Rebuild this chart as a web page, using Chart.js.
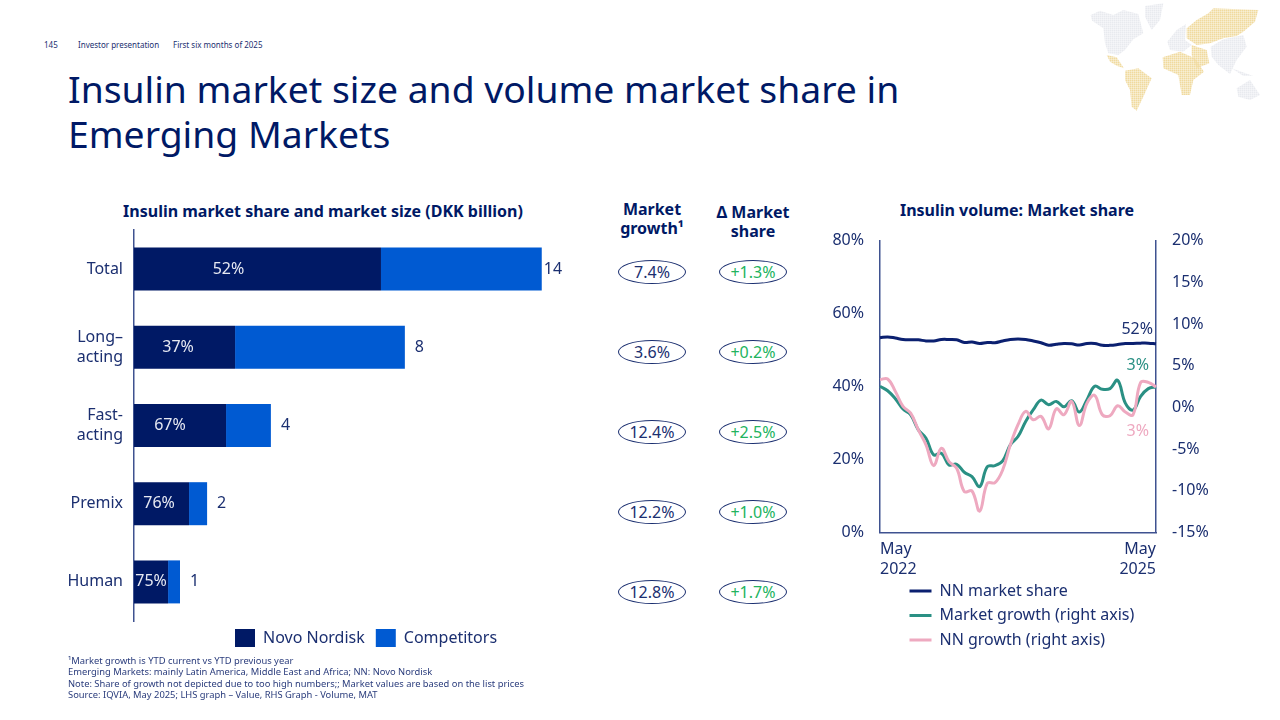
<!DOCTYPE html>
<html>
<head>
<meta charset="utf-8">
<script src="https://cdn.jsdelivr.net/npm/chart.js@4"></script>
<style>
  html, body { margin: 0; padding: 0; background: #fff; }
  body { width: 1280px; height: 720px; position: relative; overflow: hidden; font-family: "Noto Sans", sans-serif; color: #001965; }
  .abs { position: absolute; white-space: nowrap; }
  .head { font-size: 8px; top: 39px; color: #1b2f70; }
  h1 { position: absolute; left: 68px; top: 66px; margin: 0; font-size: 37.3px; line-height: 45px; font-weight: 400; color: #001965; white-space: nowrap; }
  .sub { font-size: 16px; font-weight: 700; line-height: 19px; text-align: center; transform: translateX(-50%); }
  .pill { position: absolute; width: 66px; height: 22px; border: 1px solid #1b2f70; border-radius: 50%; font-size: 16px; line-height: 22px; text-align: center; color: #1b2f70; }
  .pill.up { color: #22b35e; }
  #notes { left: 68px; top: 655px; font-size: 9.37px; line-height: 11.3px; color: #2a3c7c; }
  #leftBox { position: absolute; left: 40px; top: 209px; width: 560px; height: 451px; }
  #rightBox { position: absolute; left: 820px; top: 215px; width: 400px; height: 448px; }
  #map { position: absolute; left: 1080px; top: 0; width: 200px; height: 120px; filter: blur(0.5px); opacity: 0.9; }
</style>
</head>
<body>
<div class="abs head" style="left:44px">145</div>
<div class="abs head" style="left:78px">Investor presentation</div>
<div class="abs head" style="left:173px">First six months of 2025</div>
<h1>Insulin market size and volume market share in<br>Emerging Markets</h1>

<svg id="map" viewBox="0 0 600 360">
  <defs>
    <pattern id="dotG" width="6" height="6" patternUnits="userSpaceOnUse"><rect width="5" height="5" fill="#e6e8ed"/></pattern>
    <pattern id="dotY" width="6" height="6" patternUnits="userSpaceOnUse"><rect width="5" height="5" fill="#efd694"/></pattern>
  </defs>
  <g fill="url(#dotG)">
    <polygon points="32,45 60,32 100,45 130,30 175,42 190,100 160,118 135,150 115,165 85,160 75,130 70,85 36,62"/>
    <polygon points="195,18 250,10 240,60 215,90 195,50"/>
    <polygon points="262,125 290,90 318,72 315,120 335,135 310,155 270,150"/>
    <polygon points="392,140 430,118 490,105 500,140 470,180 450,222 415,195 395,170"/>
    <polygon points="455,205 520,228 490,228"/>
    <polygon points="470,265 510,240 540,285 510,300 475,290"/>
  </g>
  <g fill="url(#dotY)">
    <polygon points="80,165 110,172 132,205 110,197 90,185"/>
    <polygon points="135,212 175,205 215,235 190,290 170,332 155,320 150,270 135,240"/>
    <polygon points="248,172 300,155 345,175 372,215 340,240 330,285 305,285 295,225 250,205"/>
    <polygon points="335,135 380,150 388,190 350,205 335,165"/>
    <polygon points="320,85 350,60 385,40 400,25 535,30 525,65 490,95 470,108 430,115 390,130 350,135 320,115"/>
  </g>
</svg>

<div class="abs sub" style="left:323px;top:202px">Insulin market share and market size (DKK billion)</div>
<div class="abs sub" style="left:652px;top:200px">Market<br>growth¹</div>
<div class="abs sub" style="left:753px;top:203px">Δ Market<br>share</div>
<div class="abs sub" style="left:1017px;top:201px">Insulin volume: Market share</div>

<div id="leftBox"><canvas id="barChart"></canvas></div>
<div id="rightBox"><canvas id="lineChart"></canvas></div>

<div id="pills"></div>

<div class="abs" id="notes">¹Market growth is YTD current vs YTD previous year<br>Emerging Markets: mainly Latin America, Middle East and Africa; NN: Novo Nordisk<br>Note: Share of growth not depicted due to too high numbers;; Market values are based on the list prices<br>Source: IQVIA, May 2025; LHS graph – Value, RHS Graph - Volume, MAT</div>

<script>
var categories = [['Total'], ['Long–', 'acting'], ['Fast-', 'acting'], ['Premix'], ['Human']];
var novoValues = [8.48, 3.47, 3.16, 1.89, 1.17];
var competitorValues = [5.52, 5.83, 1.54, 0.62, 0.41];
var shareLabels = ['52%', '37%', '67%', '76%', '75%'];
var sizeLabels = ['14', '8', '4', '2', '1'];
var marketGrowth = ['7.4%', '3.6%', '12.4%', '12.2%', '12.8%'];
var marketShareDelta = ['+1.3%', '+0.2%', '+2.5%', '+1.0%', '+1.7%'];

var months = ['May 2022', 'Jun 2022', 'Jul 2022', 'Aug 2022', 'Sep 2022', 'Oct 2022', 'Nov 2022', 'Dec 2022',
  'Jan 2023', 'Feb 2023', 'Mar 2023', 'Apr 2023', 'May 2023', 'Jun 2023', 'Jul 2023', 'Aug 2023', 'Sep 2023', 'Oct 2023', 'Nov 2023', 'Dec 2023',
  'Jan 2024', 'Feb 2024', 'Mar 2024', 'Apr 2024', 'May 2024', 'Jun 2024', 'Jul 2024', 'Aug 2024', 'Sep 2024', 'Oct 2024', 'Nov 2024', 'Dec 2024',
  'Jan 2025', 'Feb 2025', 'Mar 2025', 'Apr 2025', 'May 2025'];
var nnShare = [53.4, 53.6, 53.3, 52.9, 52.8, 52.8, 52.5, 52.5, 52.9, 52.9, 52.8, 52.1, 52.2, 51.8, 52.1, 52.0, 52.5, 52.9, 53.0,
  52.9, 52.5, 52.0, 51.3, 51.6, 51.8, 51.7, 51.4, 51.8, 51.8, 51.3, 51.3, 51.5, 51.8, 51.8, 51.9, 51.9, 51.7];
var marketGrowthLine = [2.53, 2.0, 1.04, -0.2, -0.88, -2.69, -3.69, -5.69, -5.49, -6.9, -6.82, -7.78, -8.3, -9.5, -7.1, -6.98, -6.4, -4.49, -3.49,
  -1.68, -0.28, 0.88, 0.32, 0.72, 0.08, 0.8, -0.56, 0.92, 2.53, 2.17, 2.25, 3.25, 0.52, -0.32, 1.32, 2.25, 2.45];
var nnGrowthLine = [3.33, 3.41, 1.92, 0.12, -0.68, -2.69, -4.49, -6.98, -4.89, -6.5, -7.3, -10.1, -10.02, -12.43, -9.1, -9.02, -7.5, -4.49, -2.08,
  -0.48, -1.48, -1.08, -2.57, -0.16, -0.88, 0.72, -2.17, 0.52, 1.44, -0.88, -1.0, 0.2, -0.56, -0.88, 3.0, 3.0, 2.45];

var navy = '#001965', blue = '#005ad2', teal = '#2a9084', pink = '#eea9c0', axisInk = '#1b2f70', axisLine = '#3f5290';

Chart.defaults.font.family = '"Noto Sans", sans-serif';
Chart.defaults.font.size = 16;
Chart.defaults.color = axisInk;
Chart.defaults.animation = false;

// pills in the middle column
var pills = document.getElementById('pills');
for (var i = 0; i < marketGrowth.length; i++) {
  var pillTop = 260 + i * 80;
  pills.innerHTML += '<div class="pill" style="left:618px;top:' + pillTop + 'px">' + marketGrowth[i] + '</div>';
  pills.innerHTML += '<div class="pill up" style="left:719px;top:' + pillTop + 'px">' + marketShareDelta[i] + '</div>';
}

// the legend has no position option of its own, so move it once layout is done
var moveLegend = {
  id: 'moveLegend',
  afterLayout: function(chart, args, opts) {
    chart.legend.left = opts.left;
    chart.legend.top = opts.top;
  }
};

var barLabels = {
  id: 'barLabels',
  afterDatasetsDraw: function(chart) {
    var ctx = chart.ctx;
    var nn = chart.getDatasetMeta(0).data;
    var comp = chart.getDatasetMeta(1).data;
    var shareShift = [-29, -6.5, -10, -2.5, 0];
    ctx.save();
    ctx.font = '16px "Noto Sans"';
    ctx.textBaseline = 'middle';
    for (var i = 0; i < nn.length; i++) {
      ctx.fillStyle = '#e6e9f2';
      ctx.textAlign = 'center';
      ctx.fillText(shareLabels[i], (nn[i].base + nn[i].x) / 2 + shareShift[i], nn[i].y);
      ctx.fillStyle = axisInk;
      ctx.textAlign = 'left';
      ctx.fillText(sizeLabels[i], comp[i].x + (i == 0 ? 2 : 10), comp[i].y);
    }
    ctx.restore();
  }
};

var endLabels = {
  id: 'endLabels',
  afterDatasetsDraw: function(chart) {
    var ctx = chart.ctx;
    var texts = ['52%', '3%', '3%'];
    var inks = [axisInk, teal, pink];
    var dy = [-14, -22, 44];
    ctx.save();
    ctx.font = '16px "Noto Sans"';
    ctx.textBaseline = 'middle';
    ctx.textAlign = 'right';
    for (var d = 0; d < 3; d++) {
      var pts = chart.getDatasetMeta(d).data;
      var last = pts[pts.length - 1];
      ctx.fillStyle = inks[d];
      ctx.fillText(texts[d], last.x - (d == 0 ? 3 : 7), last.y + dy[d]);
    }
    ctx.restore();
  }
};

new Chart(document.getElementById('barChart'), {
  type: 'bar',
  data: {
    labels: categories,
    datasets: [
      { label: 'Novo Nordisk', data: novoValues, backgroundColor: navy, barPercentage: 0.55, categoryPercentage: 1 },
      { label: 'Competitors', data: competitorValues, backgroundColor: blue, barPercentage: 0.55, categoryPercentage: 1 }
    ]
  },
  options: {
    indexAxis: 'y',
    responsive: true,
    maintainAspectRatio: false,
    scales: {
      x: { stacked: true, display: false, min: 0, max: 16 },
      y: {
        stacked: true,
        afterFit: function(s) { s.width = 94; },
        grid: { display: false, drawTicks: false },
        border: { display: true, color: axisLine, width: 1.5 },
        ticks: { padding: 11, font: { size: 16, lineHeight: 1.25 }, color: axisInk }
      }
    },
    plugins: {
      tooltip: { enabled: false },
      legend: {
        position: 'bottom',
        align: 'start',
        labels: { boxWidth: 20, boxHeight: 18, padding: 11, color: axisInk, font: { size: 16 } }
      },
      moveLegend: { left: 184, top: 409 }
    }
  },
  plugins: [barLabels, moveLegend]
});

new Chart(document.getElementById('lineChart'), {
  type: 'line',
  data: {
    labels: months,
    datasets: [
      { label: 'NN market share', data: nnShare, yAxisID: 'y', borderColor: '#0b2070', backgroundColor: '#0b2070', borderWidth: 3, pointRadius: 0, tension: 0.4, order: 3 },
      { label: 'Market growth (right axis)', data: marketGrowthLine, yAxisID: 'y1', borderColor: teal, backgroundColor: teal, borderWidth: 3, pointRadius: 0, tension: 0.4, order: 2 },
      { label: 'NN growth (right axis)', data: nnGrowthLine, yAxisID: 'y1', borderColor: pink, backgroundColor: pink, borderWidth: 3, pointRadius: 0, tension: 0.4, order: 1 }
    ]
  },
  options: {
    responsive: true,
    maintainAspectRatio: false,
    scales: {
      x: {
        afterFit: function(s) { s.height = 47; },
        grid: { display: false, drawTicks: false },
        border: { display: true, color: axisLine, width: 1.5 },
        ticks: {
          padding: 7,
          autoSkip: false,
          maxRotation: 0,
          align: 'inner',
          color: axisInk,
          font: { size: 16, lineHeight: 1.25 },
          callback: function(value, index) {
            if (index == 0 || index == months.length - 1) return months[index].split(' ');
            return '';
          }
        }
      },
      y: {
        position: 'left',
        min: 0,
        max: 80,
        afterFit: function(s) { s.width = 60; },
        grid: { display: false, drawTicks: false },
        border: { display: true, color: axisLine, width: 1.5 },
        ticks: { stepSize: 20, padding: 16, color: axisInk, callback: function(v) { return v + '%'; } }
      },
      y1: {
        position: 'right',
        min: -15,
        max: 20,
        afterFit: function(s) { s.width = 64; },
        grid: { display: false, drawTicks: false },
        border: { display: true, color: axisLine, width: 1.5 },
        ticks: { stepSize: 5, padding: 16, color: axisInk, callback: function(v) { return v + '%'; } }
      }
    },
    plugins: {
      tooltip: { enabled: false },
      legend: {
        position: 'bottom',
        align: 'start',
        labels: {
          boxWidth: 22,
          boxHeight: 0,
          padding: 8.5,
          color: axisInk,
          font: { size: 16 },
          sort: function(a, b) { return a.datasetIndex - b.datasetIndex; }
        }
      },
      moveLegend: { left: 81, top: 359.5 }
    }
  },
  plugins: [endLabels, moveLegend]
});
</script>
</body>
</html>
